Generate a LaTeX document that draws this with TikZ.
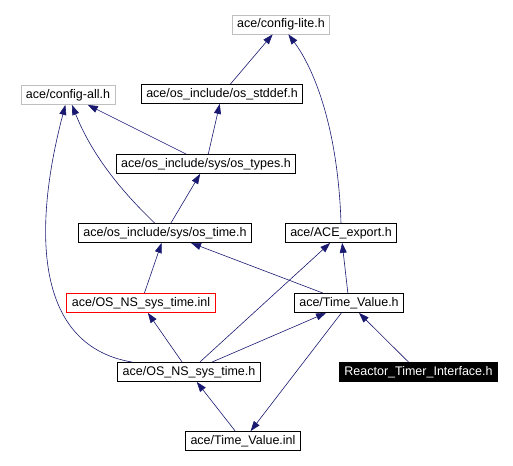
\documentclass[tikz,border=0pt]{standalone}
\usepackage{fontspec}
\setmainfont{Liberation Sans}
\usetikzlibrary{arrows.meta}
\definecolor{depblue}{RGB}{25,25,112}
\definecolor{extgray}{RGB}{191,191,191}
\tikzset{
  hfile/.style={draw, line width=0.8pt, inner xsep=5pt, inner ysep=0pt,
    minimum height=19pt, text height=9pt, text depth=2.5pt,
    font=\fontsize{12.5}{14}\selectfont},
  extfile/.style={hfile, draw=extgray},
  inlfile/.style={hfile, draw=red},
  curfile/.style={hfile, fill=black, text=white},
  dep/.style={->, depblue, line width=0.6pt}
}
\begin{document}
\begin{tikzpicture}[x=1pt, y=-1pt, >={Triangle[length=10pt,width=7pt]}]
\useasboundingbox (0,0) rectangle (513,465);
% headers
\node[extfile] (cfglite) at (281,24.5) {ace/config-lite.h};
\node[extfile] (cfgall) at (68,95) {ace/config-all.h};
\node[hfile] (stddef) at (222,94) {ace/os\_include/os\_stddef.h};
\node[hfile] (ostypes) at (206,164) {ace/os\_include/sys/os\_types.h};
\node[hfile] (ostime) at (165,233) {ace/os\_include/sys/os\_time.h};
\node[hfile] (acexp) at (341,233) {ace/ACE\_export.h};
\node[inlfile] (nsinl) at (141,303) {ace/OS\_NS\_sys\_time.inl};
\node[hfile] (tvh) at (349,303) {ace/Time\_Value.h};
\node[hfile] (nssys) at (189,372) {ace/OS\_NS\_sys\_time.h};
\node[curfile] (reactor) at (418.5,372) {Reactor\_Timer\_Interface.h};
\node[hfile] (tvinl) at (243,441) {ace/Time\_Value.inl};

% includes
\draw[dep] (stddef) -- (cfglite);
\draw[dep] (acexp.north) .. controls (338,130) and (315,70) .. (cfglite);
\draw[dep] (ostypes) -- (cfgall);
\draw[dep] (ostypes) -- (stddef);
\draw[dep] (ostime) .. controls (115,185) and (90,150) .. (cfgall);
\draw[dep] (ostime) -- (ostypes);
\draw[dep] (nsinl) -- (ostime);
\draw[dep] (tvh) -- (ostime);
\draw[dep] (tvh) -- (acexp);
\draw[dep] ([xshift=15pt]nssys.north west) .. controls (30,345) and (35,220) .. (cfgall);
\draw[dep] (nssys) -- (nsinl);
\draw[dep] (nssys) -- (acexp);
\draw[dep] (nssys) -- (tvh);
\draw[dep] (reactor) -- (tvh);
\draw[dep] (tvinl) -- (nssys);
\draw[dep] (tvh) -- (tvinl);
\end{tikzpicture}
\end{document}
